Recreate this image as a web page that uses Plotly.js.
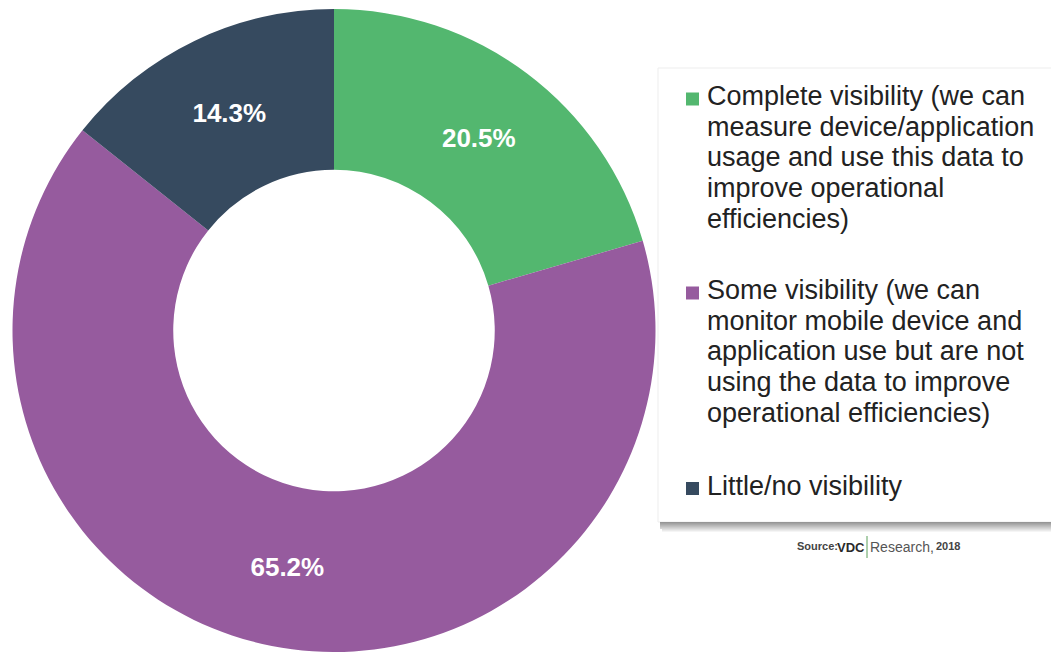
<!DOCTYPE html>
<html>
<head>
<meta charset="utf-8">
<script src="https://cdn.plot.ly/plotly-3.0.1.min.js"></script>
<style>html,body{margin:0;padding:0;background:#fff;}#chart{width:1051px;height:652px;}</style>
</head>
<body>
<div id="chart"></div>
<script>
// ---- data ----
const labels = [
  "Complete visibility (we can<br>measure device/application<br>usage and use this data to<br>improve operational<br>efficiencies)",
  "Some visibility (we can<br>monitor mobile device and<br>application use but are not<br>using the data to improve<br>operational efficiencies)",
  "Little/no visibility"
];
const values = [20.5, 65.2, 14.3];
const colors = ["#53b76f", "#965b9e", "#364a5f"];
const sourceLeft = "Source:";
const sourceBrand = "VDC";
const sourceRight = "Research,";
const sourceYear = "2018";

// ---- layout helpers ----
const W = 1051, H = 652;
const px = x => x / W;
const py = y => 1 - y / H;

const FONT = "Liberation Sans, Arial, sans-serif";

const trace = {
  type: "pie",
  values: values,
  labels: labels,
  marker: {colors: colors, line: {width: 0}},
  hole: 0.5,
  sort: false,
  direction: "clockwise",
  rotation: 0,
  textinfo: "text",
  texttemplate: "%{value:.1f}%",
  textposition: "inside",
  insidetextorientation: "horizontal",
  textfont: {family: FONT, size: 26, color: "#ffffff", weight: "bold"},
  hoverinfo: "skip",
  showlegend: false,
  domain: {x: [px(12), px(656)], y: [0, 643 / H]}
};

const shapes = [];
const annotations = [];

// legend box
shapes.push({type: "rect", xref: "paper", yref: "paper",
  x0: px(658), x1: px(1060), y0: py(522), y1: py(68),
  fillcolor: "#ffffff", line: {color: "#ededed", width: 1}, layer: "below"});
// bottom shadow
for (let i = 0; i < 10; i++) {
  const g = Math.round(150 + i * 10.5);
  shapes.push({type: "rect", xref: "paper", yref: "paper",
    x0: px(660 + (i > 6 ? 2 : 0)), x1: px(1060), y0: py(523 + i), y1: py(522 + i),
    fillcolor: `rgb(${g},${g},${g})`, line: {width: 0}, layer: "below"});
}

// legend entries
const firstBaselines = [105.5, 299.5, 495];
const lineStep = 30.6;
labels.forEach((lab, k) => {
  const lines = lab.split("<br>");
  const b0 = firstBaselines[k];
  shapes.push({type: "rect", xref: "paper", yref: "paper",
    x0: px(686), x1: px(699), y0: py(b0), y1: py(b0 - 13),
    fillcolor: colors[k], line: {width: 0}});
  lines.forEach((ln, j) => {
    const base = b0 + j * lineStep;
    annotations.push({xref: "paper", yref: "paper", x: px(705), y: py(base - 9.3),
      xanchor: "left", yanchor: "middle", showarrow: false, text: ln,
      font: {family: FONT, size: 27, color: "#222222"}});
  });
});

// source
shapes.push({type: "line", xref: "paper", yref: "paper",
  x0: px(867), x1: px(867), y0: py(558), y1: py(536),
  line: {color: "#5aa05a", width: 1}});
const srcY = py(547);
annotations.push({xref: "paper", yref: "paper", x: px(840), y: srcY + 1 / H, xanchor: "right", yanchor: "middle",
  showarrow: false, text: "<b>" + sourceLeft + "</b>",
  font: {family: FONT, size: 11, color: "#444444", stretch: "condensed"}});
annotations.push({xref: "paper", yref: "paper", x: px(867), y: srcY, xanchor: "right", yanchor: "middle",
  showarrow: false, text: "<b>" + sourceBrand + "</b>",
  font: {family: FONT, size: 13, color: "#2a2a2a", stretch: "condensed"}});
annotations.push({xref: "paper", yref: "paper", x: px(868), y: srcY, xanchor: "left", yanchor: "middle",
  showarrow: false, text: sourceRight,
  font: {family: FONT, size: 14, color: "#555555"}});
annotations.push({xref: "paper", yref: "paper", x: px(962), y: srcY + 1 / H, xanchor: "right", yanchor: "middle",
  showarrow: false, text: "<b>" + sourceYear + "</b>",
  font: {family: FONT, size: 11, color: "#444444", stretch: "condensed"}});

const layout = {
  width: W, height: H,
  margin: {l: 0, r: 0, t: 0, b: 0},
  paper_bgcolor: "#ffffff",
  plot_bgcolor: "#ffffff",
  showlegend: false,
  shapes: shapes,
  annotations: annotations
};

Plotly.newPlot("chart", [trace], layout, {displayModeBar: false, staticPlot: true});
</script>
</body>
</html>
